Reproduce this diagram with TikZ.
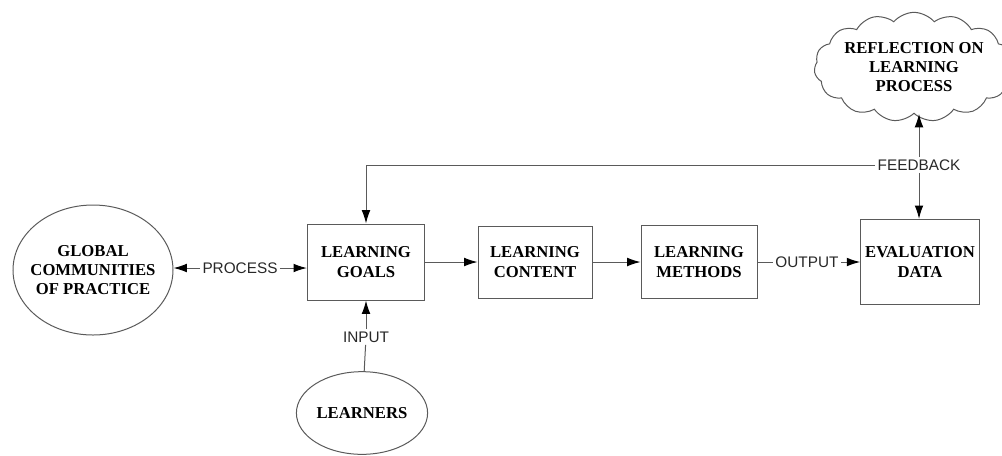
\documentclass[tikz,border=0pt]{standalone}
\usepackage{fontspec}
\setmainfont{Liberation Serif}
\newfontfamily\labelfont{Liberation Sans}
\usetikzlibrary{arrows.meta,shapes.geometric,shapes.symbols}

\tikzset{every picture/.style={line width=0.75pt}}
\tikzset{
  block/.style={draw={rgb,255:red,90;green,90;blue,90},rectangle,align=center,inner sep=0.75pt,font=\bfseries\fontsize{12.5}{14.5}\selectfont},
  oval/.style={draw={rgb,255:red,90;green,90;blue,90},ellipse,align=center,inner sep=0.75pt,font=\bfseries\fontsize{12.5}{14.5}\selectfont},
  flowlabel/.style={inner sep=1.5pt,font=\labelfont\fontsize{11.5}{13}\selectfont,text={rgb,255:red,40;green,40;blue,40}},
  link/.style={draw={rgb,255:red,90;green,90;blue,90}},
  tip/.style={draw={rgb,255:red,90;green,90;blue,90},-{Latex[length=10pt,width=6.5pt,black]}}
}

\begin{document}
\begin{tikzpicture}[x=0.75pt,y=0.75pt,yscale=-1,xscale=1]
\useasboundingbox (0,0) rectangle (1002,455);

%Shape: Ellipse [id:global]
\node [oval, inner xsep=-7pt, inner ysep=-2pt, minimum width=120pt, minimum height=97.5pt] (global) at (93,270) {GLOBAL\\COMMUNITIES\\OF PRACTICE};
%Shape: Ellipse [id:learners]
\node [oval, minimum width=98pt, minimum height=62pt] (learners) at (362,413) {LEARNERS};
%Shape: Rectangle [id:goals]
\node [block, minimum width=88pt, minimum height=57pt] (goals) at (366,262) {LEARNING\\GOALS};
%Shape: Rectangle [id:content]
\node [block, minimum width=85.5pt, minimum height=54pt] (content) at (535,262) {LEARNING\\CONTENT};
%Shape: Rectangle [id:methods]
\node [block, minimum width=87pt, minimum height=55pt] (methods) at (699,262) {LEARNING\\METHODS};
%Shape: Rectangle [id:evaluation]
\node [block, minimum width=89pt, minimum height=64pt] (evaluation) at (920,262) {EVALUATION\\DATA};
%Shape: Cloud [id:reflection]
\node [oval, cloud, cloud ignores aspect, inner sep=0pt, cloud puffs=15, cloud puff arc=100, minimum width=135pt, minimum height=82pt] (reflection) at (914,67) {REFLECTION ON\\LEARNING\\PROCESS};

% Text Node
\node [flowlabel] (process) at (240,268) {PROCESS};
% Text Node
\node [flowlabel] (output) at (807,262) {OUTPUT};
% Text Node
\node [flowlabel] (input) at (366,337) {INPUT};
% Text Node
\node [flowlabel] (feedback) at (919,165) {FEEDBACK};

%Straight Lines
\draw [tip] (process) -- (global.east |- process);
\draw [tip] (process) -- (goals.west |- process);
\draw [tip] (goals) -- (content);
\draw [tip] (content) -- (methods);
\draw [link] (methods) -- (output);
\draw [tip] (output) -- (evaluation);
\draw [link] (learners) -- (input);
\draw [tip] (input) -- (goals);
\draw [tip] (feedback.west) -- (goals.north |- feedback.west) -- (goals.north);
\draw [tip] (feedback.north) -- (feedback.north |- reflection.south);
\draw [tip] (feedback.south) -- (feedback.south |- evaluation.north);

\end{tikzpicture}
\end{document}
